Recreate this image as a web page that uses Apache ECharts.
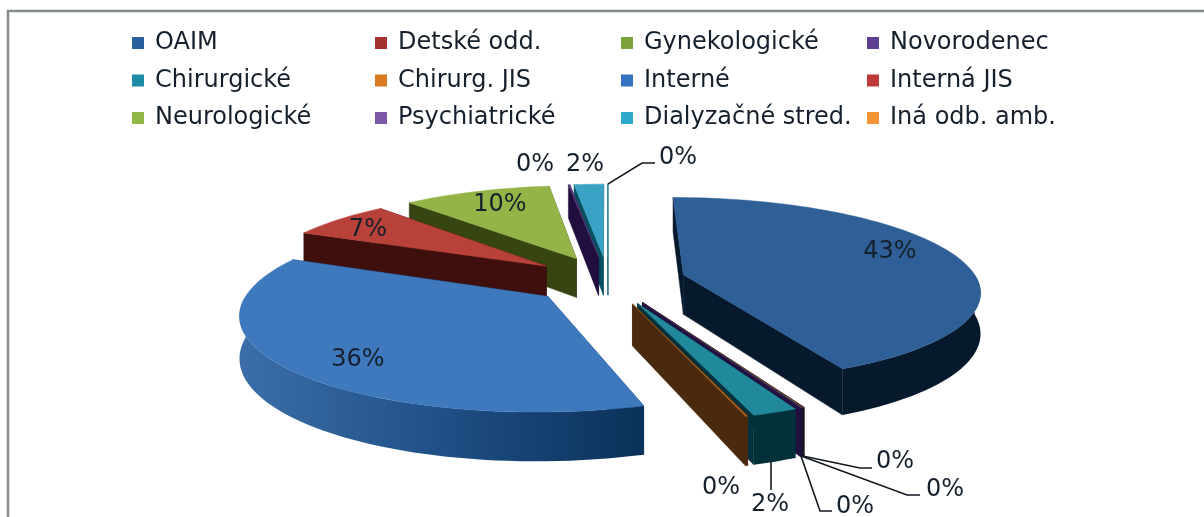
<!DOCTYPE html>
<html><head><meta charset="utf-8">
<style>html,body{margin:0;padding:0;background:#fff}#c{width:1204px;height:517px}</style>
<script src="https://cdn.jsdelivr.net/npm/echarts@6/dist/echarts.min.js"></script>
</head><body><div id="c"></div>
<script>
// ---- data ----
const categories = ['OAIM','Detské odd.','Gynekologické','Novorodenec','Chirurgické','Chirurg. JIS','Interné','Interná JIS','Neurologické','Psychiatrické','Dialyzačné stred.','Iná odb. amb.'];
const shares = [42.2,0.05,0.05,0.05,2.0,0.1,35.9,6.5,9.5,0.1,1.9,0.02];
// ---- styles ----
const legendColors = ['#2a5f9e','#a5322f','#7ea33a','#5e3f91','#1f8ca6','#d97a1e','#3373bf','#bd3a36','#93b848','#7b58a6','#2ca8c8','#f79433'];
const topColors = ['#2e5f96','#7a2422','#5d7a29','#3a2560','#20899b','#a85c16','#3e79bd','#b8413a','#94b448','#5a3f80','#3aa2c4','#3aa2c4'];
const wallColors = ['#07192c','#1c0a18','#141a30','#21103f','#02313b','#4a2a0f','#0d3a66','#3e0f0c','#364512','#21103f','#045060','#045060'];
const labelSpots = [[890,252],[895,462],[945,490],[855,507],[770,505],[721,488],[358,360],[368,230],[500,205],[535,165],[585,165],[678,158]];
const leaders = {1:[860,468],2:[907,495],3:[820,511],4:[771,490],11:[642,163]};
const leaderEnds = {1:[872,468],2:[920,495],3:[832,511],4:[771,490],11:[655,163]};
const legendColumns = [[0,4,8],[1,5,9],[2,6,10],[3,7,11]];
const legendLeft = [127,370,616,862];
// ---- projection settings ----
const cx=608, cy=280, R=294, EXPL=78, TILT=0.31, PERSP=0.16, DEPTH=40, START=0;
const total = shares.reduce((a,b)=>a+b,0);
let acc = START;
const spans = shares.map(s=>{const a0=acc; acc+=s/total*360; return [a0,acc];});
const rad = d=>d*Math.PI/180;
function project(u,v,down){
  const f = 1/(1-PERSP*v/R);
  return [cx+u*f, cy+TILT*v*f+(down?DEPTH*f:0)];
}
function geom(i){
  const [a0,a1]=spans[i], mid=rad((a0+a1)/2);
  const ou=EXPL*Math.sin(mid), ov=-EXPL*Math.cos(mid);
  const at=(deg,r)=>[ou+r*Math.sin(rad(deg)), ov-r*Math.cos(rad(deg))];
  return {a0,a1,ou,ov,at};
}
function arcPts(g,from,to,down){
  const n=Math.max(2,Math.ceil(Math.abs(to-from)/2)), pts=[];
  for(let k=0;k<=n;k++){const p=g.at(from+(to-from)*k/n,R);pts.push(project(p[0],p[1],down));}
  return pts;
}
function sliceShapes(i){
  const g=geom(i), kids=[];
  const apexT=project(g.ou,g.ov,false), apexB=project(g.ou,g.ov,true);
  const poly=(points,fill)=>({type:'polygon',shape:{points},style:{fill,stroke:fill,lineWidth:0.5}});
  const s0=project(...g.at(g.a0,R),false), s0b=project(...g.at(g.a0,R),true);
  const s1=project(...g.at(g.a1,R),false), s1b=project(...g.at(g.a1,R),true);
  kids.push(poly([apexT,s0,s0b,apexB],wallColors[i]));
  kids.push(poly([apexT,s1,s1b,apexB],wallColors[i]));
  const vFrom=Math.max(g.a0,90), vTo=Math.min(g.a1,270);
  if(vTo>vFrom){
    const t=arcPts(g,vFrom,vTo,false), b=arcPts(g,vFrom,vTo,true).reverse();
    let fill=wallColors[i];
    if(i===6){
      fill=new echarts.graphic.LinearGradient(1,0,0,0,[{offset:0,color:'#0a3158'},{offset:0.5,color:'#1f4f86'},{offset:1,color:'#3b6ea8'}]);
    }
    kids.push({type:'polygon',shape:{points:t.concat(b)},style:{fill}});
  }
  kids.push(poly([apexT].concat(arcPts(g,g.a0,g.a1,false)),topColors[i]));
  return {type:'group',children:kids};
}
const order = categories.map((_,i)=>i).sort((a,b)=>{
  const m=i=>(spans[i][0]+spans[i][1])/2;
  return -Math.cos(rad(m(a)))-(-Math.cos(rad(m(b))));
});
const sliceSeries = categories.map((name,i)=>({
  type:'custom',name,coordinateSystem:'none',silent:true,
  z:2+order.indexOf(i),
  itemStyle:{color:legendColors[i]},
  data:[[shares[i]]],
  renderItem:()=>sliceShapes(i)
}));
const labelSeries = {
  type:'custom',name:'labels',coordinateSystem:'none',silent:true,z:40,
  data:shares.map((s,i)=>[i,s]),
  renderItem:(params,api)=>{
    const i=api.value(0), pct=Math.round(api.value(1)/total*100)+'%';
    const kids=[];
    if(leaders[i]){
      const g=geom(i), a=(g.a0+g.a1)/2;
      const st=project(...g.at(a,R),i!==11);
      if(leaders[i][0]===leaderEnds[i][0]) st[0]=leaders[i][0];
      kids.push({type:'polyline',shape:{points:[st,leaders[i],leaderEnds[i]]},style:{fill:'none',stroke:'#111820',lineWidth:1.6}});
    }
    kids.push({type:'text',x:labelSpots[i][0],y:labelSpots[i][1],style:{text:pct,fill:'#16202c',font:'24px "DejaVu Sans"',align:'center',verticalAlign:'middle'}});
    return {type:'group',children:kids};
  }
};
const chart = echarts.init(document.getElementById('c'),null,{renderer:'canvas'});
chart.setOption({
  animation:false,
  backgroundColor:'#ffffff',
  legend:legendColumns.map((col,c)=>({
    orient:'vertical',left:legendLeft[c],top:26,itemGap:13.5,icon:'rect',itemWidth:12,itemHeight:12,selectedMode:false,
    data:col.map(i=>categories[i]),
    textStyle:{fontFamily:'DejaVu Sans',fontSize:24,color:'#16202c',padding:[0,0,0,6]}
  })),
  graphic:[{type:'polyline',silent:true,shape:{points:[[8,517],[8,11],[1204,11]]},style:{fill:'none',stroke:'#868e8a',lineWidth:2.5}}],
  series:sliceSeries.concat([labelSeries])
});
</script></body></html>
